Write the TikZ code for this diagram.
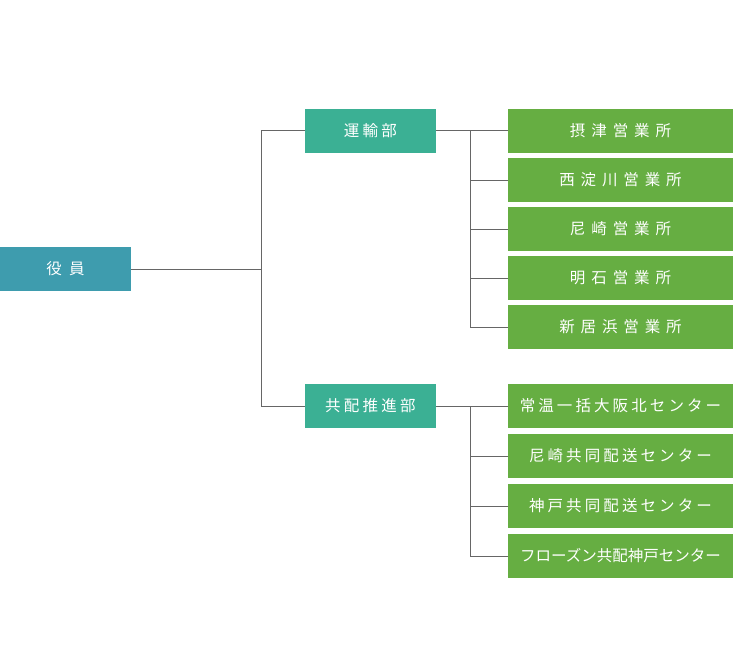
\documentclass[tikz,border=0pt]{standalone}
\usepackage{fontspec}
\setmainfont{Noto Sans CJK JP}
\definecolor{yakuin}{HTML}{3E9CAE}
\definecolor{bumon}{HTML}{3BB094}
\definecolor{kyoten}{HTML}{66AE42}
\definecolor{sen}{HTML}{666666}

\begin{document}
\begin{tikzpicture}
    [
        x=1pt, y=-1pt,
        every node/.style={minimum height=44pt, inner sep=0pt, text=white, align=center},
        yakubox/.style={fill=yakuin, minimum width=131pt, font=\fontsize{15.5pt}{18pt}\selectfont\addfontfeature{LetterSpace=46}},
        bubox/.style={fill=bumon, minimum width=131pt, font=\fontsize{15.5pt}{18pt}\selectfont\addfontfeature{LetterSpace=21}},
        eigyobox/.style={fill=kyoten, minimum width=225pt, font=\fontsize{15.5pt}{18pt}\selectfont\addfontfeature{LetterSpace=38}},
        centerbox/.style={fill=kyoten, minimum width=225pt, font=\fontsize{15.5pt}{18pt}\selectfont\addfontfeature{LetterSpace=20}},
        longbox/.style={fill=kyoten, minimum width=225pt, font=\fontsize{15.5pt}{18pt}\selectfont},
        kei/.style={draw=sen, line width=1pt},
    ]
  \useasboundingbox (0,0) rectangle (733,650);

  % Nodes
  \node [yakubox] (yaku) at (65.5,269) {役員};
  \node [bubox] (unyu) at (370.5,131) {運輸部};
  \node [bubox] (kyohai) at (370.5,406) {共配推進部};

  \node [eigyobox] (e1) at (620.5,131) {摂津営業所};
  \node [eigyobox] (e2) at (620.5,180) {西淀川営業所};
  \node [eigyobox] (e3) at (620.5,229) {尼崎営業所};
  \node [eigyobox] (e4) at (620.5,278) {明石営業所};
  \node [eigyobox] (e5) at (620.5,327) {新居浜営業所};

  \node [centerbox] (c1) at (620.5,406) {常温一括大阪北センター};
  \node [centerbox] (c2) at (620.5,456) {尼崎共同配送センター};
  \node [centerbox] (c3) at (620.5,506) {神戸共同配送センター};
  \node [longbox] (c4) at (620.5,556) {フローズン共配神戸センター};

  \coordinate (bunki) at (261,269);
  \coordinate (unyubunki) at (470,131);
  \coordinate (kyobunki) at (470,406);

  % Connections
  \draw [kei] (yaku) -- (bunki);
  \draw [kei] (bunki) |- (unyu);
  \draw [kei] (bunki) |- (kyohai);
  \draw [kei] (unyu) -- (e1);
  \foreach \n in {2,...,5} \draw [kei] (unyubunki) |- (e\n);
  \draw [kei] (kyohai) -- (c1);
  \foreach \n in {2,...,4} \draw [kei] (kyobunki) |- (c\n);
\end{tikzpicture}
\end{document}
